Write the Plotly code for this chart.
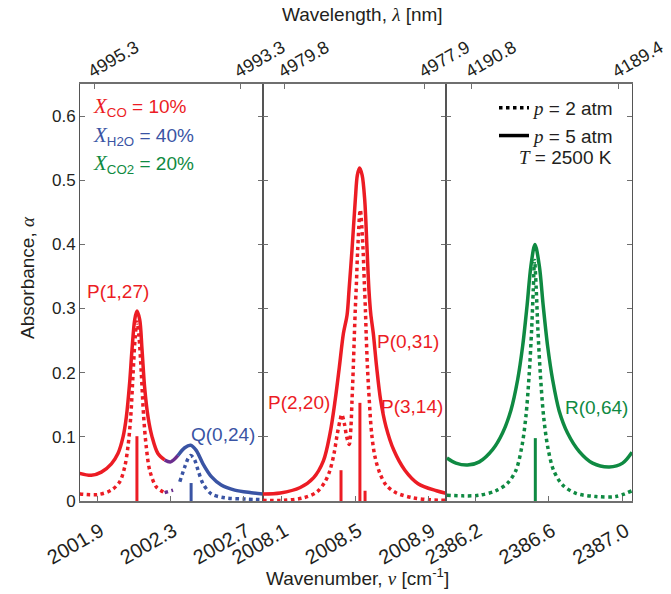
import plotly.graph_objects as go

# ---------------- data ----------------
# Panel 1: CO P(1,27) and H2O Q(0,24)
p1_wn_5 = [2001.803, 2001.867, 2001.922, 2001.977, 2002.013, 2002.041, 2002.059, 2002.077, 2002.090,
           2002.105, 2002.117, 2002.132, 2002.145, 2002.159, 2002.178, 2002.200, 2002.232, 2002.269,
           2002.302, 2002.342, 2002.379, 2002.411, 2002.442, 2002.479, 2002.525, 2002.579, 2002.653,
           2002.744, 2002.808]
p1_ab_5 = [0.043, 0.040, 0.045, 0.058, 0.074, 0.100, 0.131, 0.184, 0.236,
           0.283, 0.296, 0.283, 0.236, 0.178, 0.131, 0.100, 0.074, 0.064,
           0.061, 0.071, 0.083, 0.087, 0.079, 0.058, 0.038, 0.025, 0.017,
           0.013, 0.011]
p1_wn_2 = [2001.803, 2001.903, 2001.977, 2002.023, 2002.050, 2002.068, 2002.083, 2002.096, 2002.108,
           2002.117, 2002.128, 2002.141, 2002.154, 2002.168, 2002.187, 2002.223, 2002.269, 2002.315,
           2002.352, 2002.379, 2002.397, 2002.411, 2002.430, 2002.452, 2002.479, 2002.525, 2002.598,
           2002.708, 2002.808]
p1_ab_2 = [0.011, 0.010, 0.017, 0.030, 0.053, 0.085, 0.131, 0.199, 0.257,
           0.279, 0.257, 0.199, 0.131, 0.085, 0.048, 0.022, 0.013, 0.017,
           0.030, 0.053, 0.066, 0.071, 0.066, 0.048, 0.027, 0.011, 0.005,
           0.003, 0.002]

# Panel 2: CO P(2,20), P(0,31), P(3,14)
p2_wn_5 = [2007.997, 2008.091, 2008.200, 2008.272, 2008.326, 2008.362, 2008.390, 2008.413, 2008.435,
           2008.455, 2008.466, 2008.482, 2008.500, 2008.511, 2008.523, 2008.537, 2008.551, 2008.564,
           2008.574, 2008.584, 2008.598, 2008.616, 2008.638, 2008.667, 2008.710, 2008.770, 2008.842,
           2008.942, 2008.994]
p2_ab_5 = [0.011, 0.0125, 0.021, 0.036, 0.0625, 0.105, 0.157, 0.209, 0.261,
           0.290, 0.330, 0.392, 0.470, 0.508, 0.519, 0.508, 0.470, 0.392,
           0.330, 0.292, 0.261, 0.209, 0.157, 0.116, 0.079, 0.048, 0.027,
           0.016, 0.012]
p2_wn_2 = [2007.997, 2008.110, 2008.218, 2008.290, 2008.335, 2008.362, 2008.384, 2008.402, 2008.417,
           2008.426, 2008.440, 2008.453, 2008.467, 2008.476, 2008.482, 2008.489, 2008.495, 2008.500,
           2008.506, 2008.513, 2008.527, 2008.542, 2008.549, 2008.555, 2008.559, 2008.566, 2008.576,
           2008.589, 2008.607, 2008.634, 2008.670, 2008.724, 2008.815, 2008.905, 2008.994]
p2_ab_2 = [0.001, 0.001, 0.005, 0.014, 0.030, 0.048, 0.074, 0.105, 0.126,
           0.135, 0.121, 0.100, 0.088, 0.115, 0.157, 0.209, 0.261, 0.300,
           0.340, 0.392, 0.454, 0.392, 0.340, 0.298, 0.261, 0.209, 0.157,
           0.105, 0.069, 0.043, 0.024, 0.0125, 0.005, 0.002, 0.001]

# Panel 3: CO2 R(0,64)
p3_wn_5 = [2386.046, 2386.095, 2386.158, 2386.222, 2386.294, 2386.348, 2386.394, 2386.430, 2386.457,
           2386.481, 2386.502, 2386.524, 2386.548, 2386.569, 2386.593, 2386.620, 2386.656, 2386.701,
           2386.765, 2386.837, 2386.928, 2387.000, 2387.051]
p3_ab_5 = [0.067, 0.059, 0.056, 0.061, 0.080, 0.106, 0.142, 0.189, 0.241,
           0.304, 0.366, 0.400, 0.366, 0.304, 0.241, 0.189, 0.140, 0.106,
           0.077, 0.059, 0.053, 0.059, 0.076]
p3_wn_2 = [2386.046, 2386.131, 2386.222, 2386.312, 2386.376, 2386.421, 2386.453, 2386.475, 2386.493,
           2386.506, 2386.515, 2386.522, 2386.531, 2386.540, 2386.553, 2386.571, 2386.593, 2386.625,
           2386.674, 2386.747, 2386.855, 2386.964, 2387.051]
p3_ab_2 = [0.009, 0.008, 0.009, 0.016, 0.028, 0.048, 0.085, 0.132, 0.199,
           0.267, 0.330, 0.375, 0.330, 0.267, 0.199, 0.132, 0.085, 0.048,
           0.025, 0.012, 0.007, 0.007, 0.016]

# line-strength sticks
stick1_wn = [2002.117, 2002.414]
stick1_h = [0.101, 0.028]
stick2_wn = [2008.422, 2008.525, 2008.553]
stick2_h = [0.048, 0.153, 0.016]
stick3_wn = [2386.526]
stick3_h = [0.098]

# axis ranges and ticks (cm^-1) and top wavelength labels (nm)
ranges = [[2001.805, 2002.808], [2007.997, 2008.994], [2386.041, 2387.051]]
wn_ticks = [[2001.9, 2002.3, 2002.7], [2008.1, 2008.5, 2008.9], [2386.2, 2386.6, 2387.0]]
wn_ticktext = [["2001.9", "2002.3", "2002.7"], ["2008.1", "2008.5", "2008.9"], ["2386.2", "2386.6", "2387.0"]]
wl_ticktext = [["4995.3", "4993.3"], ["4979.8", "4977.9"], ["4190.8", "4189.4"]]
y_ticks = [0, 0.1, 0.2, 0.3, 0.4, 0.5, 0.6]
y_ticktext = ["0", "0.1", "0.2", "0.3", "0.4", "0.5", "0.6"]

# ---------------- styling ----------------
RED = "#EC1C24"
BLUE = "#3A54A4"
PURPLE = "#6B2D8E"
GREEN = "#0F8A42"
FRAME = "#6f6f6f"
TXT = "#231F20"
FONT = "Liberation Sans, Arial, sans-serif"
SERIF = "Liberation Serif, Times New Roman, serif"
LW = 3.5

fig = go.Figure()


def seg(xs, ys, lo, hi):
    px, py = [], []
    for a, b in zip(xs, ys):
        if lo <= a <= hi:
            px.append(a)
            py.append(b)
    return px, py


# color boundaries for the CO -> H2O transition in panel 1
c_lo, c_hi = 2002.26, 2002.35
for xs, ys, dash in [(p1_wn_5, p1_ab_5, "solid"), (p1_wn_2, p1_ab_2, "dot")]:
    for lo, hi, col in [(0, c_lo + 0.015, RED), (c_lo, c_hi, PURPLE), (c_hi - 0.01, 1e9, BLUE)]:
        sx, sy = seg(xs, ys, lo, hi)
        fig.add_trace(go.Scatter(x=sx, y=sy, mode="lines", xaxis="x", yaxis="y",
                                 line=dict(color=col, width=LW, dash=dash, shape="spline", smoothing=0.9),
                                 showlegend=False, hoverinfo="skip"))

for xs, ys, dash in [(p2_wn_5, p2_ab_5, "solid"), (p2_wn_2, p2_ab_2, "dot")]:
    fig.add_trace(go.Scatter(x=xs, y=ys, mode="lines", xaxis="x2", yaxis="y2",
                             line=dict(color=RED, width=LW, dash=dash, shape="spline", smoothing=0.9),
                             showlegend=False, hoverinfo="skip"))
for xs, ys, dash in [(p3_wn_5, p3_ab_5, "solid"), (p3_wn_2, p3_ab_2, "dot")]:
    fig.add_trace(go.Scatter(x=xs, y=ys, mode="lines", xaxis="x3", yaxis="y3",
                             line=dict(color=GREEN, width=LW, dash=dash, shape="spline", smoothing=0.9),
                             showlegend=False, hoverinfo="skip"))


# sticks
def sticks(wns, hs, cols, xa, ya):
    for w, h, c in zip(wns, hs, cols):
        fig.add_trace(go.Scatter(x=[w, w], y=[0, h], mode="lines", xaxis=xa, yaxis=ya,
                                 line=dict(color=c, width=3), showlegend=False, hoverinfo="skip"))


sticks(stick1_wn, stick1_h, [RED, BLUE], "x", "y")
sticks(stick2_wn, stick2_h, [RED, RED, RED], "x2", "y2")
sticks(stick3_wn, stick3_h, [GREEN], "x3", "y3")

# legend entries (black line-style keys)
fig.add_trace(go.Scatter(x=[None], y=[None], mode="lines", xaxis="x3", yaxis="y3",
                         line=dict(color="black", width=LW, dash="dot"),
                         name='<span style="font-family:Liberation Serif;font-style:italic">p</span> = 2 atm'))
fig.add_trace(go.Scatter(x=[None], y=[None], mode="lines", xaxis="x3", yaxis="y3",
                         line=dict(color="black", width=LW),
                         name='<span style="font-family:Liberation Serif;font-style:italic">p</span> = 5 atm'))

# ---------------- axes ----------------
W, H = 671, 594
ML, MR, MT, MB = 80, 39, 84, 93
pw = W - ML - MR
ph = H - MT - MB
bounds = [80, 263, 446, 632]
doms = [[(bounds[i] - ML) / pw, (bounds[i + 1] - ML) / pw] for i in range(3)]


def pxx(x):
    return (x - ML) / pw


def pyy(y):
    return (H - MB - y) / ph


layout = dict(
    width=W, height=H, margin=dict(l=ML, r=MR, t=MT, b=MB, autoexpand=False),
    paper_bgcolor="white", plot_bgcolor="white",
    font=dict(family=FONT, color=TXT, size=18),
    showlegend=True,
    legend=dict(x=pxx(620), xanchor="right", y=pyy(89), yanchor="top",
                bgcolor="rgba(0,0,0,0)", font=dict(size=19, color=TXT), itemwidth=30,
                tracegroupgap=0),
)
names = ["", "2", "3"]
for i in range(3):
    n = names[i]
    layout["xaxis" + n] = dict(domain=doms[i], range=ranges[i], anchor="y" + n,
                               tickvals=wn_ticks[i], ticktext=wn_ticktext[i], tickangle=-30,
                               ticks="inside", ticklen=5, tickwidth=1.2, tickcolor=FRAME,
                               showline=True, linecolor=FRAME, linewidth=1.5, mirror=True,
                               showgrid=False, zeroline=False, automargin=False, ticklabelshift=3,
                               ticklabelstandoff=9, ticklabeloverflow="allow",
                               tickfont=dict(size=20, color=TXT))
    layout["yaxis" + n] = dict(domain=[0, 1], range=[0, 0.65], anchor="x" + n,
                               tickvals=y_ticks, ticktext=y_ticktext,
                               ticks="inside", ticklen=5, tickwidth=1.2, tickcolor=FRAME,
                               showline=True, linecolor="#555555", linewidth=1, mirror="ticks",
                               showgrid=False, zeroline=False, showticklabels=(i == 0),
                               automargin=False, tickfont=dict(size=17, color=TXT))
    # top wavelength axis
    wl_vals = [1e7 / float(t) for t in wl_ticktext[i]]
    layout["xaxis" + str(4 + i)] = dict(overlaying="x" + n, side="top", anchor="y" + n,
                                        range=ranges[i], tickvals=wl_vals, ticktext=wl_ticktext[i],
                                        tickangle=-30, ticks="inside", ticklen=5, tickwidth=1.2,
                                        tickcolor=FRAME, showline=False, showgrid=False,
                                        zeroline=False, automargin=False, ticklabeloverflow="allow",
                                        ticklabelshift=-6, ticklabelstandoff=0,
                                        tickfont=dict(size=18, color=TXT))
fig.update_layout(**layout)
# dummy traces so top axes are drawn
for i in range(3):
    fig.add_trace(go.Scatter(x=[None], y=[None], xaxis="x" + str(4 + i), yaxis="y" + names[i],
                             showlegend=False, hoverinfo="skip"))

ann = []
it = lambda s: f'<span style="font-family:{SERIF};font-style:italic">{s}</span>'


def pann(text, x, y, xanchor="center", **kw):
    d = dict(text=text, x=pxx(x), y=pyy(y), xref="paper", yref="paper", xanchor=xanchor,
             yanchor="middle", showarrow=False)
    d.update(kw)
    ann.append(d)


pann("Wavelength, " + it("λ") + " [nm]", 362, 15, font=dict(size=19))
pann("Wavenumber, " + it("ν") + " [cm<sup>-1</sup>]", 357, 577, font=dict(size=19))
pann("Absorbance, " + it("α"), 27, 278, textangle=-90, font=dict(size=19))
# composition labels
for txt, sub, col, yc in [("= 10%", "CO", RED, 107), ("= 40%", "H2O", BLUE, 135.5), ("= 20%", "CO2", GREEN, 164)]:
    pann(f'<span style="font-family:{SERIF};font-style:italic;font-size:21px">X</span><sub>{sub}</sub> {txt}',
         91, yc, xanchor="left", font=dict(size=19, color=col))
pann(it("T") + " = 2500 K", 614, 157, xanchor="right", font=dict(size=19))
# line labels (data coords)
for t, x, y, xa, ya, col in [("P(1,27)", 2002.013, 0.326, "x", "y", RED),
                             ("Q(0,24)", 2002.589, 0.103, "x", "y", BLUE),
                             ("P(2,20)", 2008.191, 0.154, "x2", "y2", RED),
                             ("P(0,31)", 2008.788, 0.248, "x2", "y2", RED),
                             ("P(3,14)", 2008.809, 0.148, "x2", "y2", RED),
                             ("R(0,64)", 2386.856, 0.145, "x3", "y3", GREEN)]:
    ann.append(dict(text=t, x=x, y=y, xref=xa, yref=ya, showarrow=False, font=dict(size=19, color=col)))
fig.update_layout(annotations=ann)

fig.write_html("out.html")
